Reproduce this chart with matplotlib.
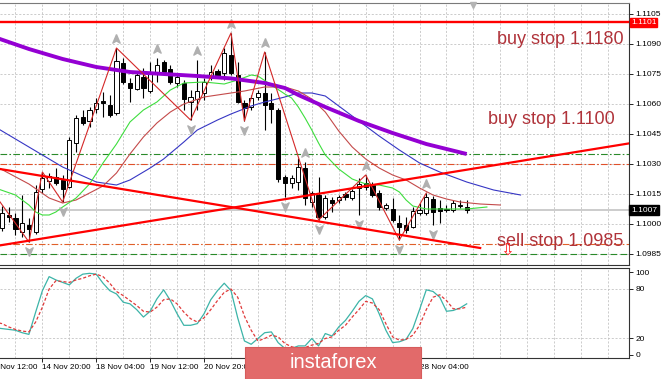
import matplotlib
matplotlib.use("Agg")
import matplotlib.pyplot as plt
from matplotlib.path import Path
from matplotlib.patches import Rectangle

plt.rcParams['font.family'] = ['Liberation Sans', 'DejaVu Sans']

# ---- H4 candles, bar index 0 = 13 Nov 12:00
bars = list(range(2, 72))
opens = [1.09980, 1.10045, 1.10030, 1.09960, 1.09995, 1.09960, 1.10175, 1.10215, 1.10235, 1.10220,
         1.10185, 1.10405, 1.10535, 1.10515, 1.10575, 1.10615, 1.10595, 1.10555, 1.10805, 1.10705,
         1.10675, 1.10735, 1.10665, 1.10755, 1.10810, 1.10775, 1.10705, 1.10705, 1.10610, 1.10625,
         1.10655, 1.10730, 1.10765, 1.10755, 1.10845, 1.10745, 1.10605, 1.10585, 1.10635, 1.10655,
         1.10605, 1.10570, 1.10235, 1.10205, 1.10210, 1.10280, 1.10110, 1.10145, 1.10035, 1.10120,
         1.10120, 1.10150, 1.10130, 1.10180, 1.10205, 1.10195, 1.10155, 1.10080, 1.10075, 1.10005,
         1.09995, 1.09985, 1.10055, 1.10055, 1.10125, 1.10080, 1.10075, 1.10070, 1.10090, 1.10085]
highs = [1.10090, 1.10085, 1.10055, 1.10145, 1.10030, 1.10195, 1.10260, 1.10255, 1.10280, 1.10245,
         1.10435, 1.10545, 1.10570, 1.10585, 1.10630, 1.10660, 1.10645, 1.10880, 1.10830, 1.10730,
         1.10760, 1.10780, 1.10810, 1.10830, 1.10820, 1.10795, 1.10745, 1.10720, 1.10670, 1.10820,
         1.10730, 1.10795, 1.10775, 1.10880, 1.10955, 1.10810, 1.10620, 1.10645, 1.10670, 1.10860,
         1.10655, 1.10580, 1.10245, 1.10245, 1.10330, 1.10310, 1.10165, 1.10235, 1.10145, 1.10135,
         1.10145, 1.10160, 1.10175, 1.10230, 1.10245, 1.10210, 1.10170, 1.10105, 1.10130, 1.10045,
         1.10035, 1.10085, 1.10105, 1.10155, 1.10140, 1.10120, 1.10095, 1.10120, 1.10120, 1.10120]
lows = [1.09965, 1.10010, 1.09945, 1.09935, 1.09910, 1.09950, 1.10155, 1.10180, 1.10195, 1.10110,
        1.10180, 1.10360, 1.10495, 1.10485, 1.10555, 1.10535, 1.10535, 1.10545, 1.10700, 1.10610,
        1.10670, 1.10630, 1.10655, 1.10710, 1.10750, 1.10700, 1.10685, 1.10570, 1.10520, 1.10570,
        1.10620, 1.10720, 1.10730, 1.10720, 1.10745, 1.10605, 1.10515, 1.10570, 1.10620, 1.10470,
        1.10505, 1.10210, 1.10135, 1.10180, 1.10170, 1.10095, 1.10085, 1.10020, 1.10025, 1.10060,
        1.10105, 1.10120, 1.10120, 1.10045, 1.10170, 1.10135, 1.10070, 1.10070, 1.10010, 1.09920,
        1.09955, 1.09980, 1.10045, 1.10045, 1.09995, 1.10005, 1.10060, 1.10060, 1.10080, 1.10055]
closes = [1.10055, 1.10035, 1.09975, 1.10005, 1.09975, 1.10160, 1.10230, 1.10240, 1.10205, 1.10175,
          1.10420, 1.10530, 1.10505, 1.10570, 1.10605, 1.10605, 1.10545, 1.10815, 1.10710, 1.10680,
          1.10745, 1.10680, 1.10760, 1.10795, 1.10760, 1.10710, 1.10735, 1.10625, 1.10635, 1.10665,
          1.10710, 1.10760, 1.10740, 1.10855, 1.10755, 1.10610, 1.10580, 1.10630, 1.10655, 1.10595,
          1.10575, 1.10225, 1.10205, 1.10230, 1.10285, 1.10130, 1.10155, 1.10035, 1.10130, 1.10105,
          1.10135, 1.10135, 1.10165, 1.10200, 1.10185, 1.10145, 1.10085, 1.10095, 1.10020, 1.09985,
          1.09970, 1.10065, 1.10070, 1.10135, 1.10060, 1.10065, 1.10070, 1.10105, 1.10095, 1.10070]

# moving averages (bar, price)
purple_bars = [1, 6, 11, 16, 21, 26, 31, 36, 41, 44, 46, 48, 50, 55, 60, 65, 71]
purple_vals = [1.10933, 1.10875, 1.10825, 1.10785, 1.10760, 1.10750, 1.10740, 1.10728, 1.10705,
               1.10680, 1.10645, 1.10615, 1.10585, 1.10515, 1.10455, 1.10400, 1.10350]
blue_bars = [1, 6, 11, 16, 19, 21, 24, 26, 29, 31, 34, 36, 39, 41, 44, 46, 48, 50, 52, 55, 58,
             61, 64, 67, 71, 75, 79]
blue_vals = [1.10485, 1.10385, 1.10285, 1.10210, 1.10195, 1.10220, 1.10280, 1.10325, 1.10410,
             1.10470, 1.10520, 1.10550, 1.10590, 1.10610, 1.10635, 1.10655, 1.10655, 1.10640,
             1.10590, 1.10515, 1.10440, 1.10370, 1.10305, 1.10260, 1.10210, 1.10170, 1.10145]
green_bars = [1, 4, 6, 7, 8, 9, 10, 11, 13, 15, 17, 19, 21, 23, 25, 27, 29, 32, 35, 37, 39, 40,
              42, 44, 45, 46, 47, 48, 49, 50, 52, 54, 56, 58, 60, 61, 62, 63, 65, 68, 71, 74]
green_vals = [1.10180, 1.10145, 1.10095, 1.10060, 1.10045, 1.10045, 1.10060, 1.10085, 1.10130,
              1.10200, 1.10305, 1.10400, 1.10510, 1.10570, 1.10610, 1.10670, 1.10705, 1.10710,
              1.10700, 1.10720, 1.10745, 1.10740, 1.10695, 1.10650, 1.10630, 1.10585, 1.10530,
              1.10470, 1.10405, 1.10345, 1.10275, 1.10225, 1.10200, 1.10195, 1.10180, 1.10160,
              1.10120, 1.10090, 1.10075, 1.10075, 1.10075, 1.10085]
brown_bars = [1, 6, 9, 11, 13, 15, 17, 19, 21, 23, 25, 27, 29, 32, 35, 38, 41, 44, 46, 48, 50,
              52, 54, 56, 58, 60, 62, 64, 66, 68, 70, 73, 76]
brown_vals = [1.10290, 1.10200, 1.10130, 1.10105, 1.10120, 1.10155, 1.10190, 1.10255, 1.10350,
              1.10435, 1.10505, 1.10560, 1.10600, 1.10635, 1.10650, 1.10665, 1.10685, 1.10685,
              1.10665, 1.10625, 1.10560, 1.10465, 1.10385, 1.10325, 1.10280, 1.10245, 1.10220,
              1.10180, 1.10145, 1.10125, 1.10110, 1.10100, 1.10095]

# zigzag and fractals
zz_bars = [0, 6, 8, 11, 19, 30, 36, 38, 41, 49, 56, 61, 65]
zz_vals = [1.10190, 1.09910, 1.10260, 1.10110, 1.10880, 1.10520, 1.10955, 1.10515, 1.10860,
           1.10020, 1.10245, 1.09920, 1.10155]
fractal_up = [19, 25, 31, 36, 41, 47, 56, 65]
fractal_down = [6, 11, 30, 38, 44, 49, 55, 61, 66]

# trend lines and levels
rise_bars = [1.7, 95.1]
rise_vals = [1.09893, 1.10403]
fall_bars = [1.7, 73.0]
fall_vals = [1.10275, 1.09880]
resistance = 1.1101
bid = 1.1007
levels_dashdot = [(1.1035, '#2a8a2a'), (1.1030, '#e0502a'), (1.0990, '#e0602a')]
level_green_dash = 1.0985

# stochastic
stoch_bars = list(range(1, 72))
stoch_main = [33, 32, 31, 30, 27, 25, 52, 78, 95, 91, 88, 85, 93, 98, 99, 98, 87, 78, 74, 64,
              62, 55, 46, 53, 68, 79, 66, 50, 36, 36, 38, 50, 67, 78, 87, 78, 45, 17, 13, 20,
              27, 28, 15, 8, 8, 11, 11, 20, 11, 26, 23, 34, 42, 53, 65, 72, 68, 50, 30, 15,
              16, 19, 32, 55, 79, 77, 70, 53, 54, 57, 62]
stoch_signal = [40, 38, 34, 31, 29, 28, 40, 58, 80, 90, 89, 88, 91, 93, 96, 98, 95, 87, 77, 72,
                66, 60, 53, 52, 58, 67, 68, 62, 52, 44, 40, 45, 55, 66, 76, 80, 70, 47, 30, 17,
                20, 24, 22, 14, 10, 8, 9, 12, 14, 20, 22, 30, 36, 46, 55, 65, 63, 55, 38, 22,
                18, 19, 24, 36, 55, 70, 73, 66, 56, 56, 58]

price_ticks = [1.0985, 1.1000, 1.1015, 1.1030, 1.1045, 1.1060, 1.1075, 1.1090, 1.1105]
tick_bars = [0, 8, 16, 24, 32, 40, 48, 56, 64]
# labels the watermark does not hide
label_bars = [0, 8, 16, 24, 32, 64]
time_labels = ['13 Nov 12:00', '14 Nov 20:00', '18 Nov 04:00', '19 Nov 12:00', '20 Nov 20:00',
               '28 Nov 04:00']

W, H = 665, 379
fig = plt.figure(figsize=(6.65, 3.79), dpi=100)


def fx(px):
    return px / W


def fy(py):
    return 1 - py / H


x_lim = (8 - 42.4 / 6.735, 8 + (629 - 42.4) / 6.735)
grid_kw = dict(color='#c4c4c4', lw=0.6, ls=(0, (2.5, 2)))

ax = fig.add_axes([0, fy(265), fx(629), (265 - 3) / H])
ax.set_xticks(tick_bars)
ax.set_xticks([b for b in range(0, 96, 4)], minor=True)
ax.set_xlim(*x_lim)
ax.tick_params(axis='x', which='both', length=0, labelbottom=False)
ax.grid(True, which='both', axis='x', **grid_kw)
ax.yaxis.tick_right()
ax.set_yticks(price_ticks)
ax.set_yticklabels(['%.4f' % p for p in price_ticks])
ax.set_ylim(1.09795, 1.11105)
ax.tick_params(axis='y', length=3, width=0.6, pad=1.5, labelsize=6)
ax.grid(True, axis='y', **grid_kw)
ax.set_axisbelow(True)
ax.spines['left'].set_visible(False)
ax.spines['top'].set_color('#7a7a7a')
ax.spines['right'].set_color('#333333')
ax.spines['bottom'].set_color('#333333')
for s in ax.spines.values():
    s.set_linewidth(0.8)

# levels
ax.axhline(bid, color='#cccccc', lw=1.4, zorder=1)
for lv, col in levels_dashdot:
    ax.axhline(lv, color=col, lw=0.8, ls=(0, (6, 2, 1.5, 2)), zorder=1.5)
ax.axhline(level_green_dash, color='#2a8a2a', lw=0.8, ls=(0, (6, 3)), zorder=1.5)

# candles
for b, o, h, l, c in zip(bars, opens, highs, lows, closes):
    ax.vlines(b, l, h, color='black', lw=0.8, zorder=2)
    height = c - o if abs(c - o) > 0.00002 else 0.00002
    face = 'white' if c >= o else 'black'
    ax.bar(b, height, bottom=o, width=0.62, facecolor=face, edgecolor='black',
           lw=0.7, zorder=2.5)

# indicators
ax.plot(blue_bars, blue_vals, color='#3636c4', lw=0.8, zorder=3)
ax.plot(brown_bars, brown_vals, color='#c44a4a', lw=0.8, zorder=3)
ax.plot(green_bars, green_vals, color='#3ede3e', lw=0.8, zorder=3)
ax.plot(purple_bars, purple_vals, color='#9400d3', lw=2.8, zorder=3.2,
        solid_capstyle='butt')
ax.plot(zz_bars, zz_vals, color='#d42828', lw=0.8, zorder=3.3)

up_mark = Path([(0, 1), (0.75, -0.75), (0, -0.3), (-0.75, -0.75), (0, 1)])
down_mark = Path([(0, -1), (0.75, 0.75), (0, 0.3), (-0.75, 0.75), (0, -1)])
ax.plot(fractal_up, [highs[b - 2] + 0.00045 for b in fractal_up], ls='none',
        marker=up_mark, ms=7, color='#b0b0b0', zorder=3.5)
ax.plot(fractal_down, [lows[b - 2] - 0.00045 for b in fractal_down], ls='none',
        marker=down_mark, ms=7, color='#b0b0b0', zorder=3.5)

# trend lines
ax.axhline(resistance, color='#ff0000', lw=1.7, zorder=4)
ax.plot(rise_bars, rise_vals, color='#ff0000', lw=1.6, zorder=4)
ax.plot(fall_bars, fall_vals, color='#ff0000', lw=1.6, zorder=4)

# chart shift marker
ax.plot(72, 1.11093, marker='v', ms=4, color='#b4b4b4', clip_on=False, zorder=5)

# price boxes
ax.text(1.003, resistance - 0.00004, '1.1101', transform=ax.get_yaxis_transform(), ha='left',
        va='center', fontsize=6, color='white', clip_on=False, zorder=6,
        bbox=dict(boxstyle='square,pad=0.12', fc='#ff0000', ec='#ff0000'))
ax.text(1.003, bid, '1.1007', transform=ax.get_yaxis_transform(), ha='left',
        va='center', fontsize=6, color='white', clip_on=False, zorder=6,
        bbox=dict(boxstyle='square,pad=0.2', fc='black', ec='black'))

# order labels
txt_col = '#b0333a'
fig.text(fx(497), fy(39), 'buy stop 1.1180', fontsize=13, color=txt_col, ha='left', va='center')
fig.text(fx(488), fy(119), 'buy stop 1.1100', fontsize=13, color=txt_col, ha='left', va='center')
fig.text(fx(497), fy(241), 'sell stop 1.0985', fontsize=13, color=txt_col, ha='left', va='center')
fig.text(fx(507), fy(250), '\u21e9', fontsize=12, color='#ff2020', ha='center', va='center',
         family='DejaVu Sans')

# stochastic panel
ax2 = fig.add_axes([0, fy(358), fx(629), (358 - 267.5) / H])
ax2.plot(stoch_bars, stoch_main, color='#3cb4a8', lw=0.9, zorder=3)
ax2.plot(stoch_bars, stoch_signal, color='#e03a3a', lw=0.9, ls=(0, (2.5, 1.6)), zorder=3)
for lv in [20, 80]:
    ax2.axhline(lv, zorder=1, **grid_kw)
ax2.set_xticks(tick_bars)
ax2.set_xticks([b for b in range(0, 96, 4)], minor=True)
ax2.set_xlim(*x_lim)
ax2.tick_params(axis='x', which='major', length=3, width=0.6, labelbottom=False)
ax2.tick_params(axis='x', which='minor', length=0)
ax2.grid(True, which='both', axis='x', **grid_kw)
ax2.yaxis.tick_right()
ax2.set_yticks([0, 20, 80, 100])
ax2.set_yticklabels(['0', '20', '80', '100'])
ax2.set_ylim(-3.64, 106.06)
ax2.tick_params(axis='y', length=3, width=0.6, pad=1.5, labelsize=6)
ax2.set_axisbelow(True)
ax2.spines['left'].set_visible(False)
for s in ['top', 'right', 'bottom']:
    ax2.spines[s].set_color('#333333')
    ax2.spines[s].set_linewidth(0.8)

for b, lab in zip(label_bars, time_labels):
    ax2.text(b, -0.1, lab, transform=ax2.get_xaxis_transform(), ha='left', va='center',
             fontsize=5.9, clip_on=False)

# watermark
fig.add_artist(Rectangle((fx(245), fy(379)), fx(421) - fx(245), (379 - 347) / H,
                         transform=fig.transFigure, facecolor='#e26a6a',
                         edgecolor='#d65c5c', lw=0.8, zorder=10))
fig.text(fx(333), fy(362), 'instaforex', fontsize=14.5, color='white', ha='center',
         va='center', zorder=11)

fig.savefig('out.png', dpi=100)
